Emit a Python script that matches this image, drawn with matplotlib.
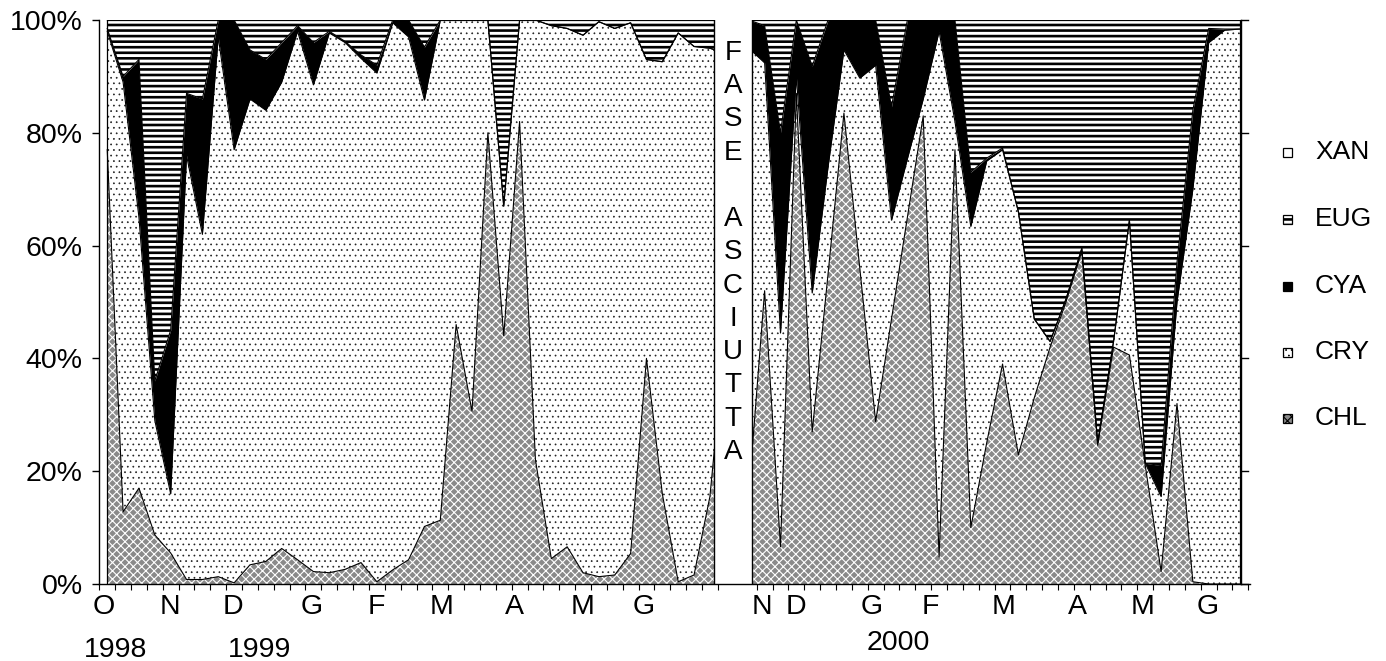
import numpy as np
import matplotlib
matplotlib.use("Agg")
import matplotlib.pyplot as plt
from matplotlib.patches import Rectangle

plt.rcParams['font.family'] = ['Liberation Sans', 'DejaVu Sans']

# ---------------- data (% composition, weekly samples) ----------------
series_names = ["CHL", "CRY", "CYA", "EUG", "XAN"]

# Period 1: Oct 1998 - Jul 1999
chl_1 = [77, 12.8, 17, 8.7, 5.5, 0.8, 0.8, 1.3, 0.2, 3.4, 4, 6.3, 4.3, 2.2, 2, 2.6, 3.8, 0.4, 2.5, 4.3,
         10.2, 11.3, 46, 30.6, 80, 44, 82, 22, 4.5, 6.6, 2, 1.3, 1.6, 5.4, 40, 16, 0.4, 1.6, 15.5, 45]
cry_1 = [21, 76.2, 48, 20.3, 10.5, 75.2, 61.2, 95.7, 76.8, 82.6, 80, 82.7, 93.7, 86.3, 95.7, 93.4, 89.4, 90.2, 97, 92.7,
         75.6, 88.7, 54, 69.4, 20, 23, 18, 78, 94.5, 91.9, 95.3, 98.4, 96.9, 94.1, 53, 76.6, 97.3, 93.7, 79.5, 49]
cya_1 = [0.5, 1, 28, 7, 29, 11, 24, 3, 23, 8.7, 9, 7, 1, 7.5, 0.3, 0.2, 0.6, 1.4, 0.5, 3,
         9.4, 0, 0, 0, 0, 0, 0, 0, 0, 0, 0, 0, 0, 0, 0, 0, 0, 0, 0, 0]
eug_1 = [1.5, 10, 7, 64, 55, 13, 14, 0, 0, 5.3, 7, 4, 1, 4, 2, 3.8, 6.2, 8, 0, 0,
         4.8, 0, 0, 0, 0, 33, 0, 0, 1, 1.5, 2.7, 0.3, 1.5, 0.5, 7, 7.4, 2.3, 4.7, 5, 6]
xan_1 = [0] * 40

# Period 2: Nov 1999 - Jul 2000
chl_2 = [16, 52, 6.6, 87, 27, 55, 83.5, 56, 28.8, 47, 65, 83, 4.8, 77, 10, 25, 39, 22.9, 33, 42,
         50, 59, 24.6, 42, 40.6, 21, 2.2, 32, 0.4, 0, 0, 0]
cry_2 = [79, 40.4, 37.9, 3, 24.6, 19, 11.2, 33.7, 63.2, 17.5, 10.4, 3, 93.2, 5, 53.4, 50, 38, 43.1, 14, 1,
         0.5, 0.5, 0.4, 1, 23.9, 0.4, 13.3, 18, 69.6, 96, 98.2, 98.4]
cya_2 = [5, 6.6, 35.5, 10, 40.2, 26, 5.3, 10.3, 8, 20.1, 24.6, 14, 2, 18, 9.6, 0.5, 0.3, 0, 0, 0,
         0, 0, 0, 0, 0, 0, 5.5, 7, 14, 2.5, 0.2, 0]
eug_2 = [0, 1, 20, 0, 8.2, 0, 0, 0, 0, 15.4, 0, 0, 0, 0, 27, 24.5, 22.7, 34, 53, 57,
         49.5, 40.5, 75, 57, 35.5, 78.6, 79, 43, 16, 1.5, 1.6, 1.6]
xan_2 = [0] * 32

# sampling positions (category index along the time axis)
x_1 = np.arange(len(chl_1)) + 0.5
x_2 = np.arange(len(chl_2)) + 40.95

month_labels_1 = ["O", "N", "D", "G", "F", "M", "A", "M", "G"]
month_pos_1 = [0.3, 4.45, 8.4, 13.4, 17.45, 21.6, 26.2, 30.5, 34.3]
month_labels_2 = ["N", "D", "G", "F", "M", "A", "M", "G"]
month_pos_2 = [41.75, 43.9, 48.7, 52.4, 57.0, 61.7, 65.8, 69.9]
year_labels = ["1998", "1999", "2000"]
year_pos = [1.05, 10.1, 50.4]
year_y = [-11.7, -11.7, -10.5]

gap_text = "FASE ASCIUTTA"

# ---------------- styles ----------------
styles = {
    "CHL": dict(face="#8a8a8a", hatch="xxxx", hcolor="white", hlw=0.8),
    "CRY": dict(face="white", hatch="...", hcolor="#222222", hlw=0.5),
    "CYA": dict(face="black", hatch=None, hcolor="black", hlw=1.0),
    "EUG": dict(face="white", hatch="---", hcolor="black", hlw=1.9),
    "XAN": dict(face="white", hatch=None, hcolor="black", hlw=1.0),
}

W, H = 1386, 661
fig = plt.figure(figsize=(W / 100, H / 100), dpi=100)
ax_left_px, ax_right_px, ax_top_px, ax_bot_px = 99.3, 1250, 20, 584
ax = fig.add_axes([ax_left_px / W, 1 - ax_bot_px / H,
                   (ax_right_px - ax_left_px) / W, (ax_bot_px - ax_top_px) / H])
unit_px = 15.86
x_max = (ax_right_px - ax_left_px) / unit_px
ax.set_xlim(0, x_max)
ax.set_ylim(0, 100)


def draw_segment(x, cols):
    data = np.array(cols, dtype=float)
    data = data / data.sum(axis=0) * 100.0
    cum = np.vstack([np.zeros(len(x)), np.cumsum(data, axis=0)])
    for j, name in enumerate(series_names):
        st = styles[name]
        with plt.rc_context({"hatch.linewidth": st["hlw"]}):
            pc = ax.fill_between(x, cum[j], cum[j + 1], facecolor=st["face"],
                                 edgecolor=st["hcolor"], hatch=st["hatch"],
                                 linewidth=0, zorder=2)
        if hasattr(pc, "set_hatch_linewidth"):
            pc.set_hatch_linewidth(st["hlw"])
    for j in range(1, len(series_names) + 1):
        ax.plot(x, cum[j], color="black", lw=0.8, zorder=3)
    for xe in (x[0], x[-1]):
        ax.plot([xe, xe], [0, 100], color="black", lw=0.9, zorder=3)


draw_segment(x_1, [chl_1, cry_1, cya_1, eug_1, xan_1])
draw_segment(x_2, [chl_2, cry_2, cya_2, eug_2, xan_2])

# dry-phase box
gap_l = (714 - ax_left_px) / unit_px
gap_r = (752 - ax_left_px) / unit_px
ax.add_patch(Rectangle((gap_l, 0), gap_r - gap_l, 100, facecolor="white",
                       edgecolor="none", zorder=5))
for xe in (gap_l, gap_r):
    ax.plot([xe, xe], [0, 100], color="black", lw=1.0, zorder=6)
for j, ch in enumerate(gap_text):
    if ch.strip():
        ax.text((gap_l + gap_r) / 2, 94.2 - 5.9 * j, ch, ha="center", va="center",
                fontsize=20, zorder=7)

# right frame with outward ticks
frame_r = (1240.7 - ax_left_px) / unit_px
ax.plot([frame_r, frame_r], [0, 100], color="black", lw=1.0, zorder=6, clip_on=False)
for yv in range(0, 101, 20):
    ax.plot([frame_r, frame_r + 0.48], [yv, yv], color="black", lw=1.0, clip_on=False, zorder=6)

# axes styling
for s in ("top", "right"):
    ax.spines[s].set_visible(False)
for s in ("left", "bottom"):
    ax.spines[s].set_linewidth(1.0)
    ax.spines[s].set_zorder(8)
ax.set_yticks(range(0, 101, 20))
ax.set_yticklabels([f"{v}%" for v in range(0, 101, 20)])
ax.tick_params(axis="y", direction="out", length=5, width=1, labelsize=20.5, pad=7)
ticks = list(np.arange(0, 40)) + list(np.arange(len(chl_2)) + 41.45)
ax.set_xticks(ticks)
ax.tick_params(axis="x", direction="out", length=4.5, width=0.8, labelbottom=False)

for lab, p in zip(month_labels_1 + month_labels_2, month_pos_1 + month_pos_2):
    ax.text(p, -4.1, lab, ha="center", va="center", fontsize=20.5, clip_on=False)
for lab, p, yy in zip(year_labels, year_pos, year_y):
    ax.text(p, yy, lab, ha="center", va="center", fontsize=20.5, clip_on=False)

# legend (top-down order)
leg_y = [152, 219, 286, 352, 418]
for name, py in zip(["XAN", "EUG", "CYA", "CRY", "CHL"], leg_y):
    st = styles[name]
    s = 9
    with plt.rc_context({"hatch.linewidth": st["hlw"]}):
        r = Rectangle(((1287 - s / 2) / W, 1 - (py + s / 2) / H), s / W, s / H,
                      transform=fig.transFigure, facecolor=st["face"],
                      edgecolor="black", hatch=st["hatch"], linewidth=0.9)
    fig.add_artist(r)
    fig.text(1315 / W, 1 - py / H, name, ha="left", va="center", fontsize=19)

fig.savefig("out.png", dpi=100)
